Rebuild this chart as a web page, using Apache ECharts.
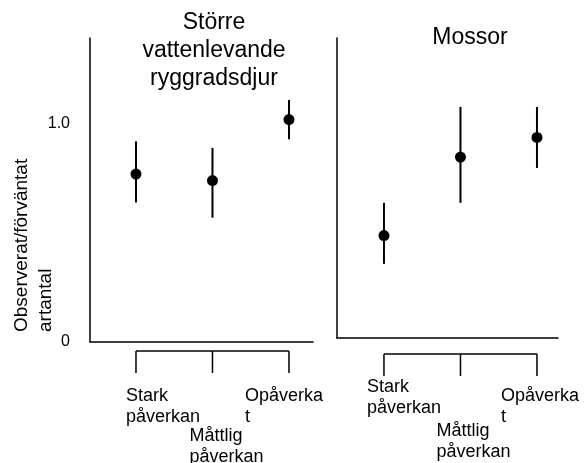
<!DOCTYPE html>
<html>
<head>
<meta charset="utf-8">
<script src="https://cdn.jsdelivr.net/npm/echarts@6/dist/echarts.min.js"></script>
<style>
  html, body { margin: 0; padding: 0; background: #fff; }
  #chart { width: 584px; height: 463px; }
</style>
</head>
<body>
<div id="chart"></div>
<script>
// data
const categories = ["Stark\npåverkan", "Måttlig\npåverkan", "Opåverka\nt"];
const panelTitles = ["Större\nvattenlevande\nryggradsdjur", "Mossor"];
const yTicks = [0, 1.0];
const yTickLabels = ["0", "1.0"];
const yName = "Observerat/förväntat\nartantal";

const vertMean = [0.77, 0.74, 1.02];
const vertLow = [0.64, 0.57, 0.93];
const vertHigh = [0.92, 0.89, 1.11];

const mossMean = [0.47, 0.83, 0.92];
const mossLow = [0.34, 0.62, 0.78];
const mossHigh = [0.62, 1.06, 1.06];

const FONT = "Liberation Sans";

// per-panel label placement, relative to tick x / axis bottom
const labelOffsets = [
  [[-10, 44], [-23, 84], [-44, 44]],
  [[-17, 39], [-24, 83], [-36, 48]]
];
const bracketGap = [9, 16];

const chart = echarts.init(document.getElementById("chart"));

const errorBars = (low, high) => low.map((l, i) => [i, l, high[i]]);

const renderErr = (params, api) => {
  const top = api.coord([api.value(0), api.value(2)]);
  const bot = api.coord([api.value(0), api.value(1)]);
  return {
    type: "line",
    shape: { x1: top[0], y1: top[1], x2: bot[0], y2: bot[1] },
    style: { stroke: "#000", lineWidth: 2 },
  };
};

const makeBracket = (panel) => (params, api) => {
  const i = api.value(0);
  const p = api.coord([i, 0]);
  const y0 = p[1] + bracketGap[panel];
  const children = [
    {
      type: "line",
      shape: { x1: p[0], y1: y0, x2: p[0], y2: y0 + 22 },
      style: { stroke: "#000", lineWidth: 1.5 },
    },
    {
      type: "text",
      style: {
        text: categories[i],
        x: p[0] + labelOffsets[panel][i][0],
        y: p[1] + labelOffsets[panel][i][1],
        fontSize: 18,
        fontFamily: FONT,
        fill: "#000",
        align: "left",
        verticalAlign: "top",
        lineHeight: 21,
      },
    },
  ];
  if (i < categories.length - 1) {
    const q = api.coord([i + 1, 0]);
    children.push({
      type: "line",
      shape: { x1: p[0], y1: y0, x2: q[0], y2: y0 },
      style: { stroke: "#000", lineWidth: 1.5 },
    });
  }
  return { type: "group", children };
};

const yAxisBase = (max, showLabel) => ({
  type: "value",
  min: 0,
  max: max,
  interval: 1,
  axisLine: { show: true, onZero: false, lineStyle: { color: "#000", width: 1.5 } },
  axisTick: { show: false },
  splitLine: { show: false },
  axisLabel: {
    show: showLabel,
    margin: 20,
    color: "#000",
    fontSize: 16,
    fontFamily: FONT,
    formatter: (v) => {
      const k = yTicks.indexOf(v);
      return k >= 0 ? yTickLabels[k] : "";
    },
  },
});

const xAxisBase = (min, max) => ({
  type: "value",
  min: min,
  max: max,
  axisLine: { show: true, onZero: false, lineStyle: { color: "#000", width: 1.5 } },
  axisTick: { show: false },
  axisLabel: { show: false },
  splitLine: { show: false },
});

const idx = categories.map((c, i) => i);

const titleStyle = { fontSize: 23, fontWeight: "normal", fontFamily: FONT, color: "#000", lineHeight: 28 };

chart.setOption({
  backgroundColor: "#fff",
  animation: false,
  title: [
    { text: panelTitles[0], left: 214, top: 9, textAlign: "center", padding: 0, textStyle: titleStyle },
    { text: panelTitles[1], left: 470, top: 24, textAlign: "center", padding: 0, textStyle: titleStyle },
  ],
  grid: [
    { left: 90, top: 38, width: 223, height: 304 },
    { left: 337, top: 38, width: 221, height: 300 },
  ],
  xAxis: [
    Object.assign(xAxisBase(-0.601, 2.314), { gridIndex: 0 }),
    Object.assign(xAxisBase(-0.614, 2.275), { gridIndex: 1 }),
  ],
  yAxis: [
    Object.assign(yAxisBase(1.394, true), { gridIndex: 0 }),
    Object.assign(yAxisBase(1.376, false), { gridIndex: 1 }),
  ],
  graphic: [
    {
      type: "text",
      x: 34,
      y: 332,
      rotation: Math.PI / 2,
      style: {
        text: yName,
        fontSize: 19,
        fontFamily: FONT,
        fill: "#000",
        align: "left",
        verticalAlign: "middle",
        lineHeight: 24,
      },
    },
  ],
  series: [
    {
      type: "custom",
      xAxisIndex: 0, yAxisIndex: 0,
      data: errorBars(vertLow, vertHigh),
      renderItem: renderErr,
      z: 2,
    },
    {
      type: "scatter",
      xAxisIndex: 0, yAxisIndex: 0,
      data: vertMean.map((v, i) => [i, v]),
      symbolSize: 11,
      itemStyle: { color: "#000", opacity: 1 },
      z: 3,
    },
    {
      type: "custom",
      xAxisIndex: 1, yAxisIndex: 1,
      data: errorBars(mossLow, mossHigh),
      renderItem: renderErr,
      z: 2,
    },
    {
      type: "scatter",
      xAxisIndex: 1, yAxisIndex: 1,
      data: mossMean.map((v, i) => [i, v]),
      symbolSize: 11,
      itemStyle: { color: "#000", opacity: 1 },
      z: 3,
    },
    {
      type: "custom",
      xAxisIndex: 0, yAxisIndex: 0,
      data: idx.map((i) => [i]),
      renderItem: makeBracket(0),
      clip: false,
    },
    {
      type: "custom",
      xAxisIndex: 1, yAxisIndex: 1,
      data: idx.map((i) => [i]),
      renderItem: makeBracket(1),
      clip: false,
    },
  ],
});
</script>
</body>
</html>
